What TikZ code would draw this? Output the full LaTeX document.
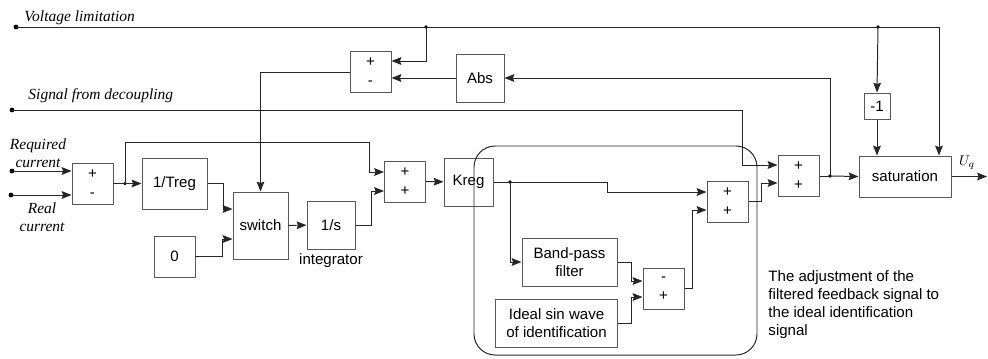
\documentclass[tikz,border=0pt]{standalone}
\usepackage{fontspec}
\setmainfont{Liberation Serif}
\setsansfont{Liberation Sans}
\usetikzlibrary{arrows,arrows.meta,shapes}

\begin{document}
\begin{tikzpicture}[x=0.025cm,y=-0.025cm,>={Stealth[length=7pt,width=5.5pt,inset=1pt]},line width=0.7pt]
    \tikzstyle{block}=[draw=black!65,rectangle,inner sep=1pt,align=center,font=\sffamily\fontsize{10.7}{12.8}\selectfont]
    \tikzstyle{sum}=[block,minimum width=1.025cm,minimum height=1.025cm,font=\sffamily\fontsize{10.7}{13.5}\selectfont]
    \tikzstyle{wire}=[draw=black!85]
    \tikzstyle{sig}=[font=\itshape\fontsize{11}{12.8}\selectfont,align=center,inner sep=0pt]
    \useasboundingbox (0,0) rectangle (988,358);

    % blocks
    \node[sum] (sum1) at (370.5,72) {+\\-};
    \node[block,minimum width=1.2cm,minimum height=1.2cm] (abs) at (480,78) {Abs};
    \node[sum] (sum0) at (92.5,183.5) {+\\-};
    \node[block,minimum width=1.625cm,minimum height=1.275cm] (treg) at (174.5,183.5) {1/Treg};
    \node[block,minimum width=1.025cm,minimum height=1.025cm] (zero) at (174.5,256.5) {0};
    \node[block,minimum width=1.375cm,minimum height=1.675cm] (switch) at (260.5,225.5) {switch};
    \node[block,minimum width=1.2cm,minimum height=1.2cm] (integ) at (331,225) {1/s};
    \node[font=\sffamily\fontsize{10.7}{12.8}\selectfont] (integlabel) at (331,261) {integrator};
    \node[sum] (sum2) at (405,181.5) {+\\+};
    \node[block,minimum width=1.225cm,minimum height=1.2cm] (kreg) at (468.5,182) {Kreg};
    \node[block,minimum width=2.375cm,minimum height=1.2cm] (bpf) at (569.5,262) {Band-pass\\filter};
    \node[block,minimum width=3.025cm,minimum height=1.2cm] (ideal) at (556.5,323) {Ideal sin wave\\of identification};
    \node[sum] (sum4) at (663.5,288.5) {-\\+};
    \node[sum] (sum3) at (727.5,201.5) {+\\+};
    \node[sum] (sum5) at (798.5,176) {+\\+};
    \node[block,minimum width=0.65cm,minimum height=0.65cm] (neg) at (877,106) {-1};
    \node[block,minimum width=2.3cm,minimum height=1.025cm] (sat) at (905,176.5) {saturation};

    % signal names
    \node[sig,anchor=west] (vltext) at (24,18) {Voltage limitation};
    \node[sig,anchor=west] (dectext) at (28,96) {Signal from decoupling};
    \node[sig] (reqtext) at (38,153) {Required\\current};
    \node[sig] (realtext) at (42,217) {Real\\current};
    \node (uq) at (967,163) {$U_q$};
    \node[font=\sffamily\fontsize{10.7}{12.8}\selectfont,align=left,anchor=north west,inner sep=0pt] (note) at (768,270)
      {The adjustment of the\\filtered feedback signal to\\the ideal identification\\signal};

    % points
    \coordinate (vl) at (16,27);
    \coordinate (vlc) at (939,27);
    \coordinate (j1) at (426,27);
    \coordinate (j2) at (878,27);
    \coordinate (dec) at (12,110);
    \coordinate (decc) at (742,110);
    \coordinate (req) at (12,171);
    \coordinate (real) at (11,195);
    \coordinate (j3) at (125,183.5);
    \coordinate (r1) at (369,142);
    \coordinate (j4) at (510,182);
    \coordinate (k1) at (607,182);
    \coordinate (j5) at (830,176);
    \coordinate (out) at (987,176.5);
    \foreach \p in {vl,dec,req,real} \fill (\p) circle (2.4);
    \foreach \p in {j1,j2,j3,j4,j5} \fill (\p) circle (1.8);

    % connections
    \draw[wire,->] (vl) -- (vlc) -- (vlc |- sat.north);
    \draw[wire,->] (j1) |- ([shift={(0,-11)}]sum1.east);
    \draw[wire,->] (j2) -- (neg.north);
    \draw[wire,->] (neg.south) -- (neg.south |- sat.north);
    \draw[wire,->] (abs.west) -- (abs.west -| sum1.east);
    \draw[wire,->] (sum1.west) -| (switch.north);
    \draw[wire,->] (dec) -- (decc) |- ([shift={(0,-11)}]sum5.west);
    \draw[wire,->] (req) -- (req -| sum0.west);
    \draw[wire,->] (real) -- (real -| sum0.west);
    \draw[wire] (sum0.east) -- (j3);
    \draw[wire,->] (j3) -- (treg.west);
    \draw[wire,->] (j3) |- (r1) |- ([shift={(0,-9.5)}]sum2.west);
    \draw[wire,->] (treg.east) -- ++(16,0) |- ([shift={(0,-16.5)}]switch.west);
    \draw[wire,->] (zero.east) -- ++(27,0) |- ([shift={(0,13.5)}]switch.west);
    \draw[wire,->] (switch) -- (integ);
    \draw[wire,->] (integ.east) -- ++(16,0) |- ([shift={(0,9.5)}]sum2.west);
    \draw[wire,->] (sum2) -- (kreg);
    \draw[wire] (kreg.east) -- (j4);
    \draw[wire,->] (j4) -- (k1) |- ([shift={(0,-9.5)}]sum3.west);
    \draw[wire,->] (j4) |- (bpf.west);
    \draw[wire,->] (bpf.east) -- ++(14,0) |- ([shift={(0,-7.5)}]sum4.west);
    \draw[wire,->] (ideal.east) -- ++(14,0) |- ([shift={(0,8.5)}]sum4.west);
    \draw[wire,->] (sum4.east) -- ++(8,0) |- ([shift={(0,8.5)}]sum3.west);
    \draw[wire,->] (sum3.east) -- ++(13,0) |- ([shift={(0,7)}]sum5.west);
    \draw[wire] (sum5.east) -- (j5);
    \draw[wire,->] (j5) -- (sat.west);
    \draw[wire,->] (j5) |- (abs.east);
    \draw[wire,->] (sat.east) -- (out);

    % adjustment area
    \draw[wire,rounded corners=15] (474,146) rectangle (757,355);
\end{tikzpicture}
\end{document}
